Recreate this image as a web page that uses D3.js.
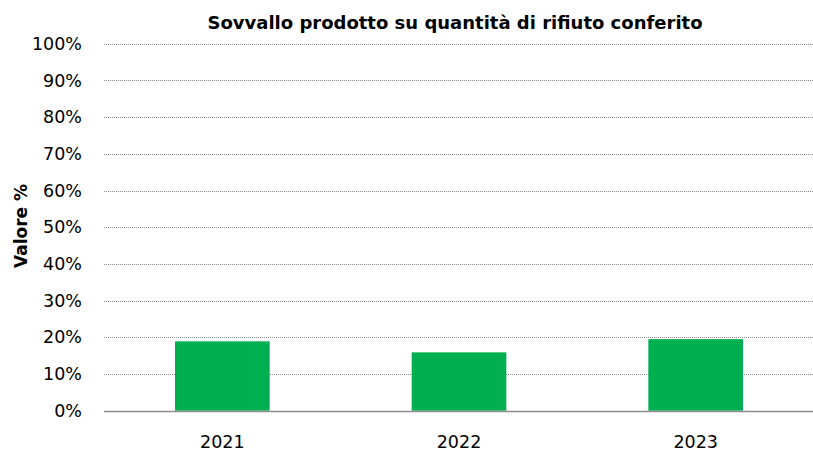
<!DOCTYPE html>
<html><head><meta charset="utf-8">
<script src="https://cdn.jsdelivr.net/npm/d3@7"></script>
<style>body{margin:0;background:#fff}svg{display:block}text{font-family:"DejaVu Sans",sans-serif}</style>
</head><body><svg id="c" width="813" height="450"></svg>
<script>
const categories = ["2021", "2022", "2023"];
const values = [0.189, 0.159, 0.195];
const yTicks = [0, 0.1, 0.2, 0.3, 0.4, 0.5, 0.6, 0.7, 0.8, 0.9, 1.0];
const title = "Sovvallo prodotto su quantità di rifiuto conferito";
const yTitle = "Valore %";

(function () {
const svg = d3.select("#c");
const pLeft = 104, pRight = 814, pTop = 43.7, pBottom = 410.7;
const x = d3.scaleBand().domain(categories).range([pLeft, pRight]).paddingInner(0.6).paddingOuter(0.3);
const y = d3.scaleLinear().domain([0, 1]).range([pBottom, pTop]);

svg.append("g").selectAll("line").data(yTicks.filter(d => d > 0)).join("line")
  .attr("x1", pLeft).attr("x2", 813)
  .attr("y1", d => Math.round(y(d)) + 0.5).attr("y2", d => Math.round(y(d)) + 0.5)
  .attr("stroke", "#8c8c8c").attr("stroke-width", 1).attr("stroke-dasharray", "1,1");

svg.append("g").selectAll("rect").data(categories).join("rect")
  .attr("x", d => x(d)).attr("width", x.bandwidth())
  .attr("y", (d, i) => y(values[i])).attr("height", (d, i) => y(0) - y(values[i]))
  .attr("fill", "#00b050");

svg.append("line").attr("x1", pLeft).attr("x2", 813)
  .attr("y1", Math.round(y(0)) + 0.5).attr("y2", Math.round(y(0)) + 0.5)
  .attr("stroke", "#8c8c8c").attr("stroke-width", 1.3);

const yAxis = d3.axisLeft(y).tickValues(yTicks).tickFormat(d3.format(".0%")).tickSize(0).tickPadding(0);
const ya = svg.append("g").attr("transform", "translate(82,0)").call(yAxis);
ya.select(".domain").remove();
ya.selectAll("text").attr("font-size", 17.5).attr("fill", "#000").attr("font-family", "DejaVu Sans, sans-serif");

const xAxis = d3.axisBottom(x).tickSize(0).tickPadding(0);
const xa = svg.append("g").attr("transform", "translate(0,435.5)").call(xAxis);
xa.select(".domain").remove();
xa.selectAll("text").attr("font-size", 17.5).attr("fill", "#000").attr("font-family", "DejaVu Sans, sans-serif");

svg.append("text").attr("x", 455).attr("y", 29).attr("text-anchor", "middle")
  .attr("font-family", "Open Sans, sans-serif")
  .attr("font-size", 18).attr("font-weight", "bold").text(title);

svg.append("text").attr("transform", "translate(26.5,226) rotate(-90)").attr("text-anchor", "middle")
  .attr("font-size", 17).attr("font-weight", "bold").text(yTitle);
})();
</script></body></html>
